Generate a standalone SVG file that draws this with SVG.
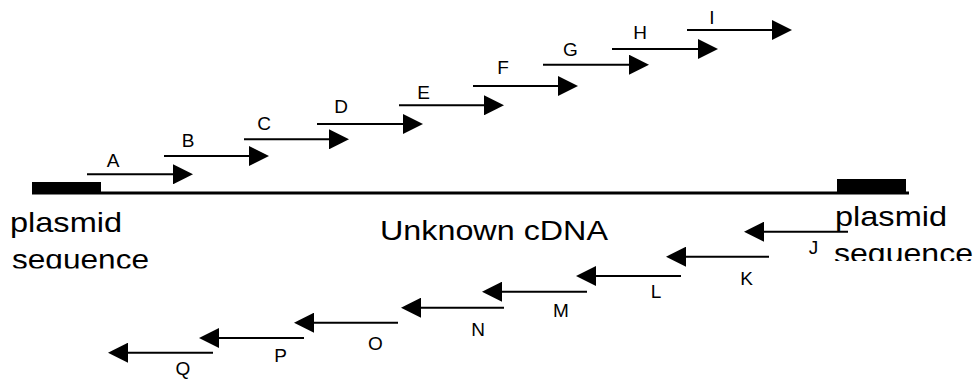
<svg xmlns="http://www.w3.org/2000/svg" width="976" height="379" viewBox="0 0 976 379">
<style>
  .big { font-family: "Liberation Sans", Arial, sans-serif; font-size: 28px; fill: #000; }
  .lbl { font-family: "Liberation Sans", Arial, sans-serif; font-size: 19px; fill: #000; text-anchor: middle; }
  .arr { stroke: #000; stroke-width: 2; fill: none; marker-end: url(#head); }
  .blk { fill: #000; }
</style>
<defs>
  <marker id="head" markerUnits="userSpaceOnUse" markerWidth="20" markerHeight="20" refX="2" refY="10" orient="auto" viewBox="0 0 20 20">
    <path d="M0,0 L20,10 L0,20 Z" fill="#000"/>
  </marker>
  <clipPath id="clipL"><rect x="0" y="240" width="200" height="28.5"/></clipPath>
  <clipPath id="clipR"><rect x="820" y="235" width="156" height="26"/></clipPath>
</defs>
<rect width="976" height="379" fill="#fff"/>

<g id="cdna">
  <line x1="32" y1="193" x2="909" y2="193" stroke="#000" stroke-width="3"/>
  <text class="big" x="380" y="240" textLength="228" lengthAdjust="spacingAndGlyphs">Unknown cDNA</text>
</g>
<g id="plasmid-left">
  <rect class="blk" x="32" y="182" width="69" height="11"/>
  <text class="big" x="10" y="232" textLength="112" lengthAdjust="spacingAndGlyphs">plasmid</text>
  <text class="big" x="12" y="268.5" textLength="137" lengthAdjust="spacingAndGlyphs" clip-path="url(#clipL)">sequence</text>
</g>
<g id="plasmid-right">
  <rect class="blk" x="837" y="179" width="69" height="13"/>
  <text class="big" x="835" y="226" textLength="112" lengthAdjust="spacingAndGlyphs">plasmid</text>
  <text class="big" x="834" y="262.5" textLength="139" lengthAdjust="spacingAndGlyphs" clip-path="url(#clipR)">sequence</text>
</g>

<g id="connectors">
  <line class="arr" x1="87" y1="174.3" x2="175" y2="174.3"/>
  <line class="arr" x1="164" y1="156" x2="251" y2="156"/>
  <line class="arr" x1="244" y1="139.3" x2="331" y2="139.3"/>
  <line class="arr" x1="317" y1="124" x2="405" y2="124"/>
  <line class="arr" x1="399" y1="105.3" x2="486" y2="105.3"/>
  <line class="arr" x1="473" y1="86" x2="560" y2="86"/>
  <line class="arr" x1="543" y1="64.7" x2="631" y2="64.7"/>
  <line class="arr" x1="612" y1="49" x2="700" y2="49"/>
  <line class="arr" x1="687" y1="30" x2="774" y2="30"/>

  <line class="arr" x1="848" y1="231.7" x2="762" y2="231.7"/>
  <line class="arr" x1="769" y1="256.7" x2="684" y2="256.7"/>
  <line class="arr" x1="681" y1="276" x2="594" y2="276"/>
  <line class="arr" x1="587" y1="291.7" x2="500" y2="291.7"/>
  <line class="arr" x1="504" y1="307.7" x2="419" y2="307.7"/>
  <line class="arr" x1="398" y1="322.7" x2="312" y2="322.7"/>
  <line class="arr" x1="304" y1="338" x2="217" y2="338"/>
  <line class="arr" x1="213" y1="352.7" x2="126" y2="352.7"/>
</g>

<g id="A"><text class="lbl" x="113" y="166.7">A</text></g>
<g id="B"><text class="lbl" x="188" y="147">B</text></g>
<g id="C"><text class="lbl" x="264" y="130">C</text></g>
<g id="D"><text class="lbl" x="341" y="113">D</text></g>
<g id="E"><text class="lbl" x="423.5" y="99">E</text></g>
<g id="F"><text class="lbl" x="503" y="74">F</text></g>
<g id="G"><text class="lbl" x="570.5" y="55.7">G</text></g>
<g id="H"><text class="lbl" x="640" y="39">H</text></g>
<g id="I"><text class="lbl" x="712" y="24">I</text></g>
<g id="J"><text class="lbl" x="813.5" y="254">J</text></g>
<g id="K"><text class="lbl" x="746.5" y="285">K</text></g>
<g id="L"><text class="lbl" x="656" y="298">L</text></g>
<g id="M"><text class="lbl" x="561" y="317">M</text></g>
<g id="N"><text class="lbl" x="478" y="335.7">N</text></g>
<g id="O"><text class="lbl" x="375.5" y="350">O</text></g>
<g id="P"><text class="lbl" x="280.5" y="361.7">P</text></g>
<g id="Q"><text class="lbl" x="183" y="375">Q</text></g>
</svg>
